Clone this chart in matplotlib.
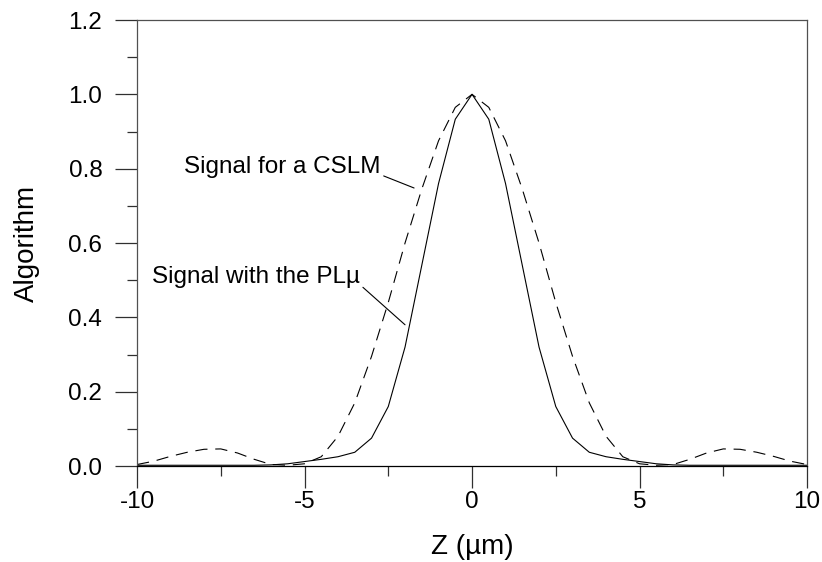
import numpy as np
import matplotlib
matplotlib.use("Agg")
import matplotlib.pyplot as plt
from matplotlib.ticker import MultipleLocator, FormatStrFormatter

plt.rcParams['font.family'] = ['Liberation Sans', 'DejaVu Sans']
plt.rcParams['axes.unicode_minus'] = False

# z positions (um)
z = [-10, -9.5, -9, -8.5, -8, -7.5, -7, -6.5, -6, -5.5, -5, -4.5, -4, -3.5, -3,
     -2.5, -2, -1.5, -1, -0.5, 0, 0.5, 1, 1.5, 2, 2.5, 3, 3.5, 4, 4.5, 5, 5.5,
     6, 6.5, 7, 7.5, 8, 8.5, 9, 9.5, 10]

# signal with the PLu (solid)
plu = [0.002, 0.002, 0.002, 0.002, 0.002, 0.002, 0.002, 0.002, 0.003, 0.006, 0.012,
       0.018, 0.025, 0.037, 0.075, 0.16, 0.32, 0.54, 0.76, 0.933, 1.0, 0.933, 0.76,
       0.54, 0.32, 0.16, 0.075, 0.037, 0.025, 0.018, 0.012, 0.006, 0.003, 0.002,
       0.002, 0.002, 0.002, 0.002, 0.002, 0.002, 0.002]

# signal for a CSLM (dashed)
cslm = [0.004, 0.013, 0.026, 0.037, 0.045, 0.046, 0.035, 0.018, 0.004, 0.002, 0.006,
        0.025, 0.08, 0.17, 0.295, 0.44, 0.60, 0.745, 0.875, 0.965, 1.0, 0.965, 0.875,
        0.745, 0.60, 0.44, 0.295, 0.17, 0.08, 0.025, 0.006, 0.002, 0.004, 0.018,
        0.035, 0.046, 0.045, 0.037, 0.026, 0.013, 0.004]

fig = plt.figure(figsize=(8.22, 5.62), dpi=100)
ax = fig.add_axes([0.1667, 0.1708, 0.8151, 0.7936])

ax.plot(z, plu, color='black', lw=0.8)
ax.plot(z, cslm, color='black', lw=0.8, dashes=(11, 7))

ax.set_xlim(-10, 10)
ax.set_ylim(0, 1.2)

ax.xaxis.set_major_locator(MultipleLocator(5))
ax.xaxis.set_minor_locator(MultipleLocator(2.5))
ax.yaxis.set_major_locator(MultipleLocator(0.2))
ax.yaxis.set_minor_locator(MultipleLocator(0.1))
ax.yaxis.set_major_formatter(FormatStrFormatter('%.1f'))

# ticks outward, left and bottom only
ax.tick_params(which='both', direction='out', top=False, right=False, color='#303030', width=0.9)
ax.tick_params(which='major', length=16, labelsize=17.5)
ax.tick_params(which='minor', length=7.5)
ax.tick_params(axis='y', which='major', pad=9)
ax.tick_params(axis='x', which='major', pad=2)

for s in ax.spines.values():
    s.set_color('#505050')
    s.set_linewidth(0.9)
ax.spines['bottom'].set_color('black')

ax.set_xlabel('Z (µm)', fontsize=20)
ax.set_ylabel('Algorithm', fontsize=20)
ax.xaxis.set_label_coords(0.5, -0.152)
ax.yaxis.set_label_coords(-0.145, 0.5)

# callouts with leader lines
ax.annotate('Signal for a CSLM', xy=(-1.73, 0.748), xytext=(-2.72, 0.788),
            ha='right', va='baseline', fontsize=17.5,
            arrowprops=dict(arrowstyle='-', color='black', lw=0.8,
                            shrinkA=0, shrinkB=0, relpos=(1, 0.15)))
ax.annotate('Signal with the PLµ', xy=(-2.0, 0.38), xytext=(-3.34, 0.492),
            ha='right', va='baseline', fontsize=17.5,
            arrowprops=dict(arrowstyle='-', color='black', lw=0.8,
                            shrinkA=0, shrinkB=0, relpos=(1, 0.15)))

fig.savefig('out.png', dpi=100)
